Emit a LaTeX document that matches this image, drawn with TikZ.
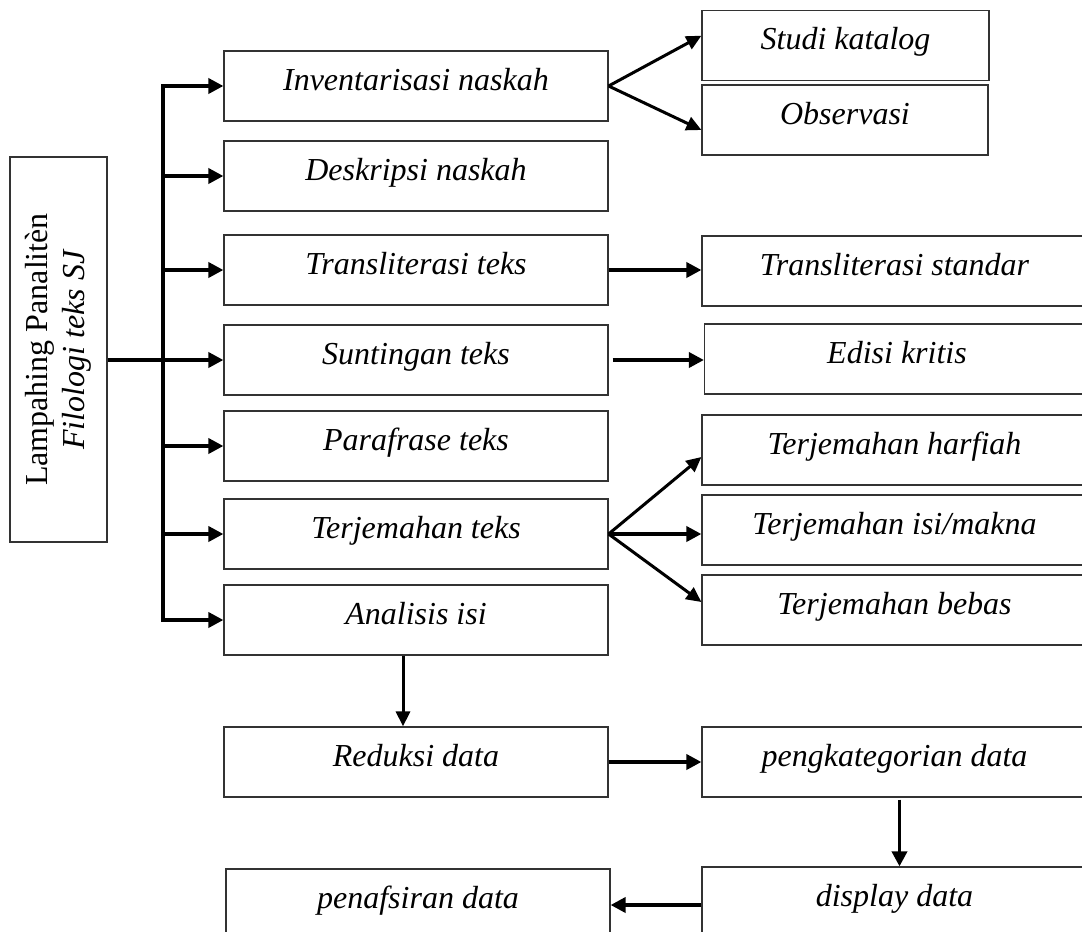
\documentclass[tikz,border=0pt]{standalone}
\usepackage{fontspec}
\setmainfont{Liberation Serif}
\usetikzlibrary{arrows.meta}
\begin{document}
\begin{tikzpicture}[x=1pt,y=-1pt,
  box/.style={draw=black!80, line width=1.2pt, minimum width=384pt, minimum height=70pt,
    inner sep=0pt, text height=20pt, text depth=12pt, font=\fontsize{32}{38}\selectfont\itshape},
  rbox/.style={box, minimum width=385pt},
  arr/.style={line width=3.6pt, -{Triangle[length=15pt,width=15pt]}},
  darr/.style={line width=3pt, -{Triangle[length=15pt,width=14pt]}},
  vline/.style={line width=4pt, line cap=rect}]
\useasboundingbox (0,0) rectangle (1082,932);
\fill[white] (0,0) rectangle (1082,932);
\clip (0,0) rectangle (1082,932);

% left root box
\node[draw=black!80, line width=1.2pt, rotate=90, minimum width=385pt, minimum height=97pt,
  inner sep=0pt, align=center, font=\fontsize{32}{37}\selectfont] (root) at (58.5,349.5)
  {Lampahing Panalitèn\\\textit{Filologi teks SJ}};

% main column
\node[box] (b1) at (416,86) {Inventarisasi naskah};
\node[box] (b2) at (416,176) {Deskripsi naskah};
\node[box] (b3) at (416,270) {Transliterasi teks};
\node[box] (b4) at (416,360) {Suntingan teks};
\node[box] (b5) at (416,446) {Parafrase teks};
\node[box] (b6) at (416,534) {Terjemahan teks};
\node[box] (b7) at (416,620) {Analisis isi};
\node[box] (b8) at (416,762) {Reduksi data};
\node[box] (b9) at (418,904) {penafsiran data};

% right column
\node[box, minimum width=287pt] (s1) at (845.5,45.7) {Studi katalog};
\node[box, minimum width=286pt] (s2) at (845,120) {Observasi};
\node[rbox] (s3) at (894.5,271) {Transliterasi standar};
\node[rbox] (s4) at (897,359) {Edisi kritis};
\node[rbox] (s5) at (894.5,450) {Terjemahan harfiah};
\node[rbox] (s6) at (894.5,530) {Terjemahan isi/makna};
\node[rbox] (s7) at (894.5,610) {Terjemahan bebas};
\node[rbox] (s8) at (894.5,762) {pengkategorian data};
\node[rbox] (s9) at (894.5,902) {display data};

% trunk
\coordinate (t1) at (163,86);
\coordinate (t7) at (163,620);
\draw[vline] (t1) -- (t7);
\draw[line width=3.6pt] (root.south |- b4.west) -- (t1 |- b4.west);
\foreach \b in {b1,b2,b3,b4,b5,b6,b7}
  \draw[arr] (t1 |- \b.west) -- (\b.west);

% branches
\draw[darr] (b1.east) -- ([yshift=10pt]s1.west);
\draw[darr] (b1.east) -- ([yshift=-10pt]s2.west);
\draw[arr] (b3.east) -- (b3.east -| s3.west);
\draw[arr] ([xshift=4pt]b4.east) -- (b4.east -| s4.west);
\draw[darr] (b6.east) -- ([yshift=-7pt]s5.west);
\draw[arr] (b6.east) -- (b6.east -| s6.west);
\draw[darr] (b6.east) -- ([yshift=8pt]s7.west);
\draw[darr] ([xshift=-13pt]b7.south) -- ([xshift=-13pt]b8.north);
\draw[arr] (b8.east) -- (s8.west);
\draw[arr] ([xshift=5pt,yshift=-2pt]s8.south) -- ([xshift=5pt]s9.north);
\draw[arr] ([yshift=-3pt]s9.west) -- ([yshift=-3pt]s9.west -| b9.east);
\end{tikzpicture}
\end{document}
